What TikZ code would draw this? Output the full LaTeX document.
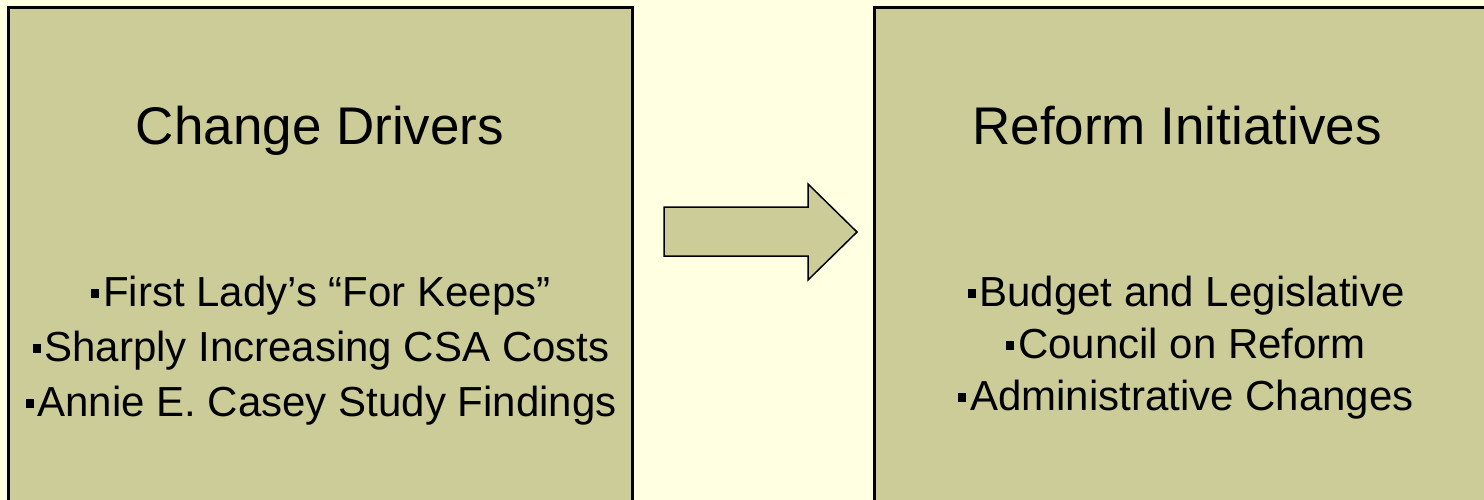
\documentclass[tikz,border=0pt]{standalone}
\usepackage{fontspec}
\setmainfont{Liberation Sans}
\definecolor{bgc}{RGB}{255,255,225}
\definecolor{boxc}{RGB}{204,204,153}
\newcommand{\sqb}{\rule[8pt]{8pt}{9pt}\hspace{4pt}}
\begin{document}
\begin{tikzpicture}[x=1pt,y=-1pt,
  panel/.style={draw=black,line width=3pt,fill=boxc},
  ttl/.style={anchor=base,inner sep=0pt,font=\fontsize{53}{60}\selectfont},
  itm/.style={anchor=base,inner sep=0pt,font=\fontsize{42}{50}\selectfont},
  blockarrow/.style={draw=black,line width=1.5pt,fill=boxc,line join=miter}]
\useasboundingbox (0,0) rectangle (1484,500);
\clip (0,0) rectangle (1484,500);
\fill[bgc] (0,0) rectangle (1484,500);
% panels
\draw[panel] (8,8) rectangle (632,520);
\draw[panel] (874,8) rectangle (1510,520);
% arrow
\draw[blockarrow] (664,207) -- (808,207) -- (808,184) -- (857,232) -- (808,280) -- (808,256) -- (664,256) -- cycle;
% left texts
\node[ttl] (t1) at (320,145) {Change Drivers};
\node[itm] (l1) at (321,306) {\sqb First Lady’s “For Keeps”};
\node[itm] (l2) at (321,361) {\sqb Sharply Increasing CSA Costs};
\node[itm] (l3) at (321,416) {\sqb Annie E. Casey Study Findings};
% right texts
\node[ttl] (t2) at (1177,145) {Reform Initiatives};
\node[itm] (r1) at (1186,306) {\sqb Budget and Legislative};
\node[itm] (r2) at (1186,358) {\sqb Council on Reform};
\node[itm] (r3) at (1186,410) {\sqb Administrative Changes};
\end{tikzpicture}
\end{document}
